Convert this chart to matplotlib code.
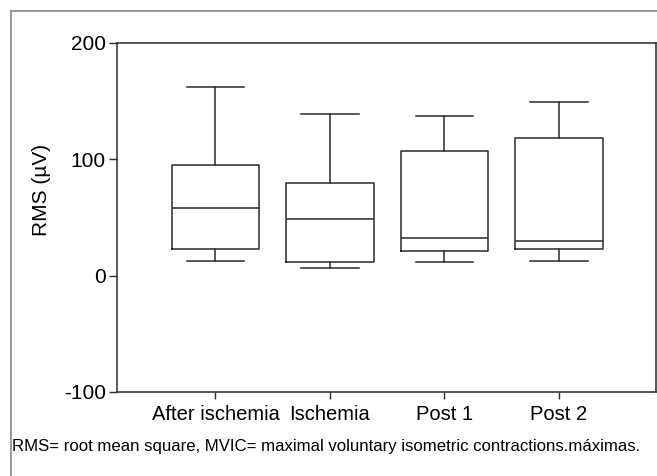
import matplotlib.pyplot as plt
from matplotlib.lines import Line2D

plt.rcParams['font.family'] = ['Liberation Sans', 'DejaVu Sans']
plt.rcParams['axes.unicode_minus'] = False

# box statistics
groups = ["After ischemia", "Ischemia", "Post 1", "Post 2"]
whislo = [13, 6.5, 12, 13]
q1 = [23, 12, 21.5, 23]
med = [58.5, 49, 32, 30]
q3 = [95, 80, 107, 118]
whishi = [162, 139, 137, 149]

stats = []
for i in range(len(groups)):
    stats.append(dict(label=groups[i], whislo=whislo[i], q1=q1[i], med=med[i],
                      q3=q3[i], whishi=whishi[i], fliers=[]))

fig = plt.figure(figsize=(6.57, 4.76), dpi=100)
ax = fig.add_axes([117/657, 1-392/476, (656-117)/657, (392-43)/476])

lc = '#2a2a2a'
ax.bxp(stats, widths=0.76, showfliers=False,
       boxprops=dict(color=lc, linewidth=1.1),
       whiskerprops=dict(color=lc, linewidth=1.1),
       capprops=dict(color=lc, linewidth=1.1),
       medianprops=dict(color=lc, linewidth=1.1),
       capwidths=0.5)

ax.set_xlim(0.14, 4.847)
ax.set_ylim(-100, 200)
ax.set_yticks([-100, 0, 100, 200])
ax.tick_params(axis='y', labelsize=15, color=lc, width=1, length=6, pad=2)
ax.tick_params(axis='x', labelsize=14.5, color=lc, width=1, length=5, pad=4)
for s in ax.spines.values():
    s.set_color(lc)
    s.set_linewidth(1.1)
ax.set_ylabel("RMS (µV)", fontsize=15)
ax.yaxis.set_label_coords(-0.123, 0.58)

fig.text(12/657, 1-446/476, "RMS= root mean square, MVIC= maximal voluntary isometric contractions.máximas.",
         fontsize=12.1, va='center', ha='left')

# outer frame
fig.add_artist(Line2D([10.5/657, 10.5/657], [0, 1-11/476], transform=fig.transFigure,
                      color='#888888', linewidth=1.2))
fig.add_artist(Line2D([10.5/657, 1], [1-11/476, 1-11/476], transform=fig.transFigure,
                      color='#888888', linewidth=1.2))

fig.savefig("out.png", dpi=100)
